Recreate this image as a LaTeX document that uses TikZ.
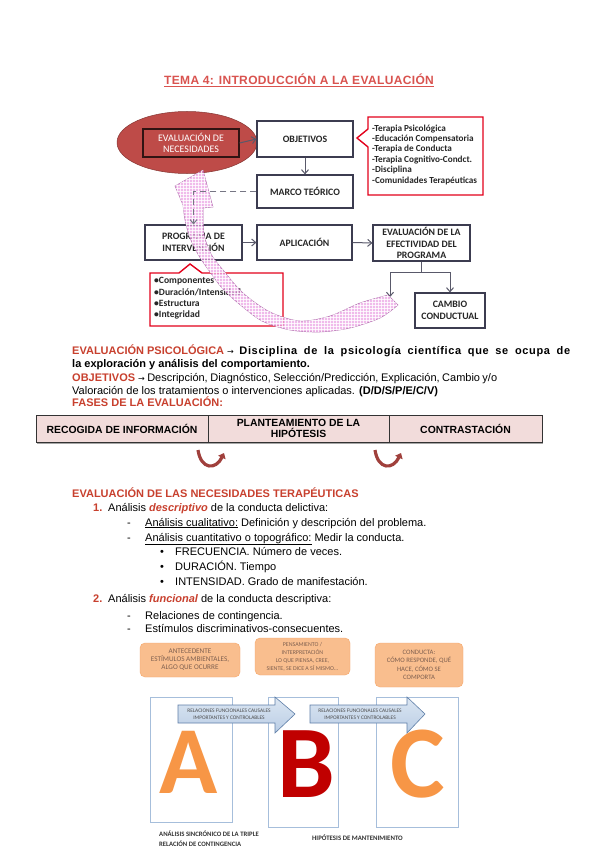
\documentclass[tikz,border=0pt]{standalone}
\usepackage{fontspec}
\setmainfont{Liberation Sans}
\newfontfamily\carl{Carlito}
\newfontfamily\djv{DejaVu Sans}
\usetikzlibrary{arrows.meta,patterns,shapes.geometric,calc}
\definecolor{hred}{HTML}{C8402E}
\definecolor{ttl}{HTML}{D9534F}
\definecolor{ellred}{HTML}{BE4B48}
\definecolor{boxline}{HTML}{3C3C50}
\definecolor{cred}{HTML}{E3001B}
\definecolor{pinkf}{HTML}{EBA2E4}
\definecolor{pinkd}{HTML}{A45AA0}
\definecolor{tabf}{HTML}{F2DCDB}
\definecolor{uarr}{HTML}{A0403C}
\definecolor{orF}{HTML}{F9BE8E}
\definecolor{orD}{HTML}{F5A66A}
\definecolor{frm}{HTML}{A6BEDB}
\definecolor{barT}{HTML}{DCE6F2}
\definecolor{barf}{HTML}{B9CDE5}
\definecolor{barl}{HTML}{5F7FA8}
\definecolor{letor}{HTML}{F79646}
\definecolor{letred}{HTML}{C00000}
\definecolor{ortext}{HTML}{7F6050}
\begin{document}
\begin{tikzpicture}[x=1pt,y=-1pt,
  fbox/.style={draw=boxline, line width=1.2pt, fill=white, align=center, inner sep=0pt,
    font=\carl\bfseries\fontsize{9.8}{11.5}\selectfont, text=black!85},
  conn/.style={draw=boxline!85, line width=1pt, -{Straight Barb[length=4pt,width=7pt]}},
  plain/.style={draw=boxline!85, line width=1pt},
  txt/.style={anchor=base west, inner sep=0pt, font=\fontsize{11}{13}\selectfont},
  cell/.style={draw=black!80, line width=1pt, fill=tabf, align=center, inner sep=0pt,
    font=\bfseries\fontsize{10.4}{10.5}\selectfont},
  obox/.style={draw=orD, fill=orF, rounded corners=5pt, align=center, inner sep=0pt, text=ortext},
  frame/.style={draw=frm, line width=0.6pt},
  bar/.style={draw=barl, line width=0.6pt, top color=barT, bottom color=barf},
  bartxt/.style={anchor=base, inner sep=0pt, font=\carl\fontsize{5.4}{6}\selectfont, text=black!70},
  bigl/.style={anchor=base, inner sep=0pt, text height=62pt, text depth=0pt, font=\carl\bfseries\fontsize{96}{96}\selectfont}
]
\useasboundingbox[fill=white] (0,0) rectangle (600,848);

% ---------- title
\node[font=\bfseries\fontsize{12}{14}\selectfont\addfontfeatures{LetterSpace=3}, text=ttl] (title) at (299,80)
  {\underline{TEMA 4: INTRODUCCIÓN A LA EVALUACIÓN}};

% ---------- flow chart
\node[ellipse, fill=ellred, draw=ellred!70!black, line width=0.5pt, minimum width=140pt, minimum height=62pt] (ell) at (187,142.5) {};
\node[draw=black!75!ellred, line width=1.2pt, minimum width=96pt, minimum height=28pt, inner sep=0pt, align=center,
  text=white, font=\carl\fontsize{10}{11}\selectfont] (inr) at (191,143) {EVALUACIÓN DE\\NECESIDADES};

\node[fbox, minimum width=96pt, minimum height=36pt] (obj) at (305,139) {OBJETIVOS};
\node[fbox, minimum width=96pt, minimum height=33pt] (marco) at (305,191.5) {MARCO TEÓRICO};
\node[fbox, minimum width=97pt, minimum height=35pt] (prog) at (193.5,242.5) {PROGRAMA DE\\INTERVENCIÓN};
\node[fbox, minimum width=95pt, minimum height=35pt] (apl) at (304.5,242.5) {APLICACIÓN};
\node[fbox, minimum width=97pt, minimum height=36pt] (evl) at (421.5,243) {EVALUACIÓN DE LA\\EFECTIVIDAD DEL\\PROGRAMA};
\node[fbox, minimum width=70pt, minimum height=35pt] (cambio) at (450,310.5) {CAMBIO\\CONDUCTUAL};

% callout 1
\draw[draw=cred, line width=1.4pt, fill=white] (368,117) -- (483,117) -- (483,195) -- (368,195) -- (368,147) -- (357,138) -- (368,129) -- cycle;
\node[anchor=north west, align=left, inner sep=0pt, font=\carl\bfseries\fontsize{9.2}{10.4}\selectfont, text=black!85] (c1) at (372,124.5)
 {-Terapia Psicológica\\-Educación Compensatoria\\-Terapia de Conducta\\-Terapia Cognitivo-Condct.\\-Disciplina\\-Comunidades Terapéuticas};

% callout 2
\draw[draw=cred, line width=1.4pt, fill=white] (150,273) -- (179,273) -- (190,264) -- (202,273) -- (283,273) -- (283,326) -- (150,326) -- cycle;
\node[anchor=north west, align=left, inner sep=0pt, font=\carl\bfseries\fontsize{9.6}{11.3}\selectfont, text=black!85] (c2) at (154,277.5)
 {•Componentes\\•Duración/Intensidad\\•Estructura\\•Integridad};

% connectors
\draw[conn] (inr.east) -- (obj.west);
\draw[conn] (obj.south) -- (marco.north);
\draw[conn] (prog.east) -- (apl.west);
\draw[conn] (apl.east) -- (evl.west);
\coordinate (lend) at (390,297);
\draw[plain] (evl.south) -- ($(evl.south)+(0,11)$) coordinate (jm);
\draw[conn] (jm) -| (lend);
\draw[conn] (jm) -| (cambio.north);

% pink curved arrow
\path[fill=pinkf, fill opacity=0.72, draw=pinkd, draw opacity=0.8, line width=0.5pt,
  postaction={pattern=grid, pattern color=white}]
  (203,170) -- (213,207) -- (203,208)
  -- plot[smooth] coordinates {(203,208) (204,234) (211,254) (223,270) (243,293) (270,312) (300,321) (330,316) (360,303) (388,295)}
  -- (398,305)
  -- plot[smooth] coordinates {(398,305) (380,318) (350,328) (320,332) (290,330) (262,321) (238,303) (222,288) (210,272) (199,256) (190,238) (185,220) (183,205)}
  -- (175,186) -- cycle;

% dashed link
\draw[draw=boxline!70, line width=1pt, dashed, dash pattern=on 6pt off 4pt, -{Straight Barb[length=4pt,width=7pt]}] (marco.west) -| (prog.north);

% ---------- text block
\node[txt] (t1) at (72,354) {\hbox to 498pt{\bfseries\mbox{{\color{hred}EVALUACIÓN PSICOLÓGICA} {\djv\mdseries\fontsize{8}{8}\selectfont →}} {\addfontfeatures{LetterSpace=6}Disciplina de la psicología científica que se ocupa de}}};
\node[txt] (t2) at (72,367) {\bfseries la exploración y análisis del comportamiento.};
\node[txt] (t3) at (72,381) {\hbox to 425pt{\mbox{{\bfseries\color{hred}OBJETIVOS} {\djv\fontsize{8}{8}\selectfont →}} Descripción, Diagnóstico, Selección/Predicción, Explicación, Cambio y/o}};
\node[txt] (t4) at (72,394) {Valoración de los tratamientos o intervenciones aplicadas. \textbf{(D/D/S/P/E/C/V)}};
\node[txt] (t5) at (72,406) {\bfseries\color{hred}FASES DE LA EVALUACIÓN:};

% table
\fill[black!35] (37,441) rectangle (543,443.5);
\node[cell, minimum width=172pt, minimum height=27pt] (tc1) at (122,428.5) {RECOGIDA DE INFORMACIÓN};
\node[cell, minimum width=181pt, minimum height=27pt] (tc2) at (298.5,428.5) {PLANTEAMIENTO DE LA\\HIPÓTESIS};
\node[cell, minimum width=153pt, minimum height=27pt] (tc3) at (465.5,428.5) {CONTRASTACIÓN};

% U arrows
\draw[uarr, line width=3.2pt, -{Triangle[length=5pt,width=8pt]}] (198,450) .. controls (201,470) and (216,470) .. (224,453);
\draw[uarr, line width=3.2pt, -{Triangle[length=5pt,width=8pt]}] (375,450) .. controls (378,470) and (393,470) .. (401,453);

% ---------- list
\node[txt] (l0) at (72,497) {\bfseries\color{hred}EVALUACIÓN DE LAS NECESIDADES TERAPÉUTICAS};
\node[txt] (n1) at (93,511) {\bfseries\color{hred}1.};
\node[txt] (l1) at (108,511) {Análisis {\bfseries\itshape\color{hred}descriptivo} de la conducta delictiva:};
\node[txt] (d1) at (127,526) {-};
\node[txt] (l2) at (145,526) {\underline{Análisis cualitativo:} Definición y descripción del problema.};
\node[txt] (d2) at (127,541) {-};
\node[txt] (l3) at (145,541) {\underline{Análisis cuantitativo o topográfico:} Medir la conducta.};
\node[txt] (b1) at (160,555) {•};
\node[txt] (l4) at (175,555) {FRECUENCIA. Número de veces.};
\node[txt] (b2) at (160,570) {•};
\node[txt] (l5) at (175,570) {DURACIÓN. Tiempo};
\node[txt] (b3) at (160,585) {•};
\node[txt] (l6) at (175,585) {INTENSIDAD. Grado de manifestación.};
\node[txt] (n2) at (93,602) {\bfseries\color{hred}2.};
\node[txt] (l7) at (108,602) {Análisis {\bfseries\itshape\color{hred}funcional} de la conducta descriptiva:};
\node[txt] (d3) at (127,619) {-};
\node[txt] (l8) at (145,619) {Relaciones de contingencia.};
\node[txt] (d4) at (127,632) {-};
\node[txt] (l9) at (145,632) {Estímulos discriminativos-consecuentes.};

% ---------- ABC
\node[obox, minimum width=100pt, minimum height=34pt, font=\carl\fontsize{7.2}{8}\selectfont] (ob1) at (190,660) {ANTECEDENTE\\ESTÍMULOS AMBIENTALES,\\ALGO QUE OCURRE};
\node[obox, minimum width=95pt, minimum height=37pt, font=\carl\fontsize{5.9}{8}\selectfont] (ob2) at (302.5,656.5) {PENSAMIENTO /\\INTERPRETACIÓN\\LO QUE PIENSA, CREE,\\SIENTE, SE DICE A SÍ MISMO...};
\node[obox, minimum width=88pt, minimum height=44pt, font=\carl\fontsize{6.7}{8.5}\selectfont] (ob3) at (419,665) {CONDUCTA:\\CÓMO RESPONDE, QUÉ\\HACE, CÓMO SE\\COMPORTA};

\draw[frame] (150,697) rectangle (232,822);
\draw[frame] (268,697) rectangle (338,827);
\draw[frame] (376,697) rectangle (458,827);

\node[bigl, text=letor] (la) at (189,793) {A};
\node[bigl, text=letred, text height=66pt, font=\carl\bfseries\fontsize{103}{103}\selectfont] (lb) at (306,797) {B};
\node[bigl, text=letor, text height=66pt, font=\carl\bfseries\fontsize{103}{103}\selectfont] (lc) at (418,797) {C};

\draw[bar] (178,705) -- (275,705) -- (275,697) -- (295,714) -- (275,733) -- (275,723) -- (178,723) -- cycle;
\draw[bar] (310,705) -- (407,705) -- (407,697) -- (425,714) -- (407,733) -- (407,723) -- (310,723) -- cycle;
\node[bartxt] (bt1a) at (229,712) {RELACIONES FUNCIONALES CAUSALES};
\node[bartxt] (bt1b) at (229,719.5) {IMPORTANTES Y CONTROLABLES};
\node[bartxt] (bt2a) at (360,712) {RELACIONES FUNCIONALES CAUSALES};
\node[bartxt] (bt2b) at (360,719.5) {IMPORTANTES Y CONTROLABLES};

\node[anchor=north west, align=left, inner sep=0pt, font=\carl\bfseries\fontsize{6.7}{10}\selectfont, text=black!80] (bot1) at (159,831)
  {ANÁLISIS SINCRÓNICO DE LA TRIPLE\\RELACIÓN DE CONTINGENCIA};
\node[anchor=west, inner sep=0pt, font=\carl\bfseries\fontsize{6.8}{10}\selectfont, text=black!80] (bot2) at (312,838)
  {HIPÓTESIS DE MANTENIMIENTO};
\end{tikzpicture}
\end{document}
